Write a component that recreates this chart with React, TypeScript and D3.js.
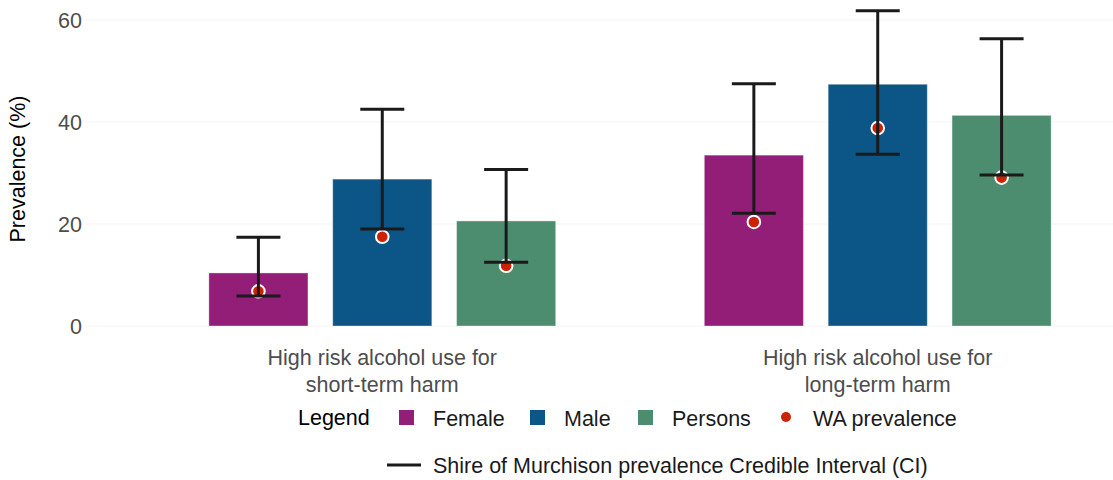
import React from "react";
import * as d3 from "d3";

const categories: string[][] = [
  ["High risk alcohol use for", "short-term harm"],
  ["High risk alcohol use for", "long-term harm"],
];
const seriesNames = ["Female", "Male", "Persons"];
const seriesColors = ["#921e78", "#0b5587", "#4c8d70"];
const femaleValues = [10.4, 33.5];
const maleValues = [28.8, 47.4];
const personsValues = [20.6, 41.3];
const femaleLower = [5.9, 22.1];
const maleLower = [19.0, 33.7];
const personsLower = [12.5, 29.6];
const femaleUpper = [17.4, 47.5];
const maleUpper = [42.5, 61.8];
const personsUpper = [30.7, 56.3];
const femaleWA = [6.8, 20.4];
const maleWA = [17.5, 38.8];
const personsWA = [11.8, 29.1];
const yTicks = [0, 20, 40, 60];

const values = [femaleValues, maleValues, personsValues];
const lowers = [femaleLower, maleLower, personsLower];
const uppers = [femaleUpper, maleUpper, personsUpper];
const was = [femaleWA, maleWA, personsWA];

const W = 1113;
const H = 480;
const FONT = "'Liberation Sans', Arial, Helvetica, sans-serif";
const FS = 21.5;

export default function App() {
  const x = d3.scaleLinear().domain([0.4, 2.6]).range([85, 1175]);
  const y = d3.scaleLinear().domain([0, 60]).range([326, 20]);
  const dodge = 0.25;
  const barW = 0.2;
  const capHalf = 22;
  const unit = x(1) - x(0);

  const items: any[] = [];
  categories.forEach((_, ci) => {
    seriesNames.forEach((s, si) => {
      items.push({
        ci,
        si,
        cx: x(ci + 1 + (si - 1) * dodge),
        v: values[si][ci],
        lo: lowers[si][ci],
        hi: uppers[si][ci],
        wa: was[si][ci],
      });
    });
  });

  return (
    <svg width={W} height={H} style={{ display: "block", position: "absolute", left: 0, top: 0, background: "#fff" }} fontFamily={FONT}>
      {yTicks.map((t) => (
        <line key={"g" + t} x1={85} x2={W} y1={y(t)} y2={y(t)} stroke="#f4f4f4" strokeWidth={1} />
      ))}
      {yTicks.map((t) => (
        <text key={"t" + t} x={82} y={y(t)} dy="0.36em" textAnchor="end" fontSize={FS} fill="#4d4d4d">
          {t}
        </text>
      ))}
      <text transform={`translate(25,169) rotate(-90)`} textAnchor="middle" fontSize={FS} fill="#000">
        Prevalence (%)
      </text>
      {items.map((d, i) => (
        <rect
          key={"b" + i}
          x={d.cx - (barW * unit) / 2}
          y={y(d.v)}
          width={barW * unit}
          height={y(0) - y(d.v)}
          fill={seriesColors[d.si]}
          stroke="#ffffff"
          strokeOpacity={0.35}
          strokeWidth={1}
        />
      ))}
      {items.map((d, i) => (
        <circle key={"p" + i} cx={d.cx} cy={y(d.wa)} r={6.3} fill="#cc2200" stroke="#fff" strokeWidth={2} />
      ))}
      {items.map((d, i) => (
        <g key={"e" + i} stroke="#1a1a1a" strokeWidth={3}>
          <line x1={d.cx} x2={d.cx} y1={y(d.lo)} y2={y(d.hi)} />
          <line x1={d.cx - capHalf} x2={d.cx + capHalf} y1={y(d.lo)} y2={y(d.lo)} />
          <line x1={d.cx - capHalf} x2={d.cx + capHalf} y1={y(d.hi)} y2={y(d.hi)} />
        </g>
      ))}
      {categories.map((lines, ci) => (
        <text key={"c" + ci} x={x(ci + 1)} textAnchor="middle" fontSize={FS} fill="#4d4d4d">
          {lines.map((l, li) => (
            <tspan key={li} x={x(ci + 1)} y={357 + li * 27} dy="0.36em">
              {l}
            </tspan>
          ))}
        </text>
      ))}
      <g fontSize={FS} fill="#000">
        <text x={298} y={417} dy="0.36em">Legend</text>
        {seriesNames.map((s, si) => {
          const sx = [399, 530, 638][si];
          return (
            <g key={"l" + si}>
              <rect x={sx} y={410} width={15} height={15} fill={seriesColors[si]} />
              <text x={sx + 34} y={418} dy="0.36em" fill="#1a1a1a">{s}</text>
            </g>
          );
        })}
        <circle cx={786} cy={417} r={5} fill="#cc2200" />
        <text x={813} y={418} dy="0.36em" fill="#1a1a1a">WA prevalence</text>
        <line x1={387} x2={421} y1={465} y2={465} stroke="#1a1a1a" strokeWidth={3} />
        <text x={433} y={465} dy="0.36em" fill="#1a1a1a">Shire of Murchison prevalence Credible Interval (CI)</text>
      </g>
    </svg>
  );
}
